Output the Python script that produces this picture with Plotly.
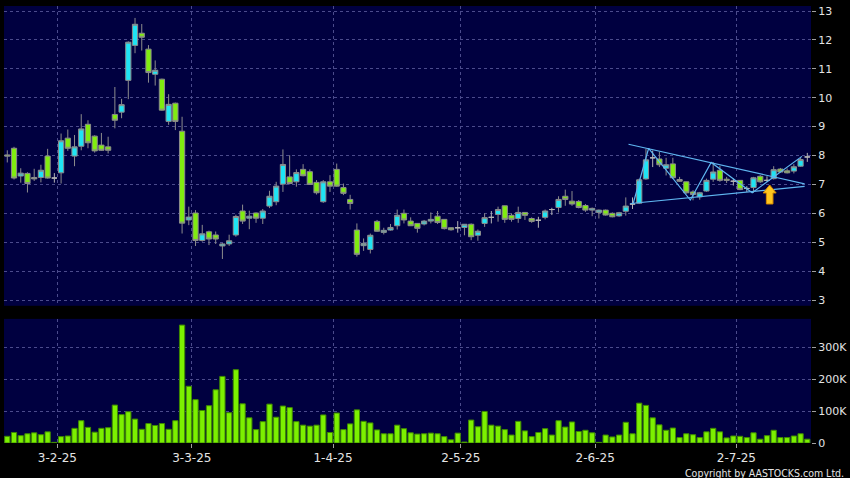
import plotly.graph_objects as go

# ---------------- data ----------------
open_ = [8.02, 8.25, 7.29, 7.38, 7.24, 7.24, 7.98, 7.22, 7.40, 8.60,
         7.98, 8.32, 9.08, 8.67, 8.36, 8.30, 9.42, 9.50, 10.60, 11.81,
         12.23, 11.68, 10.81, 10.64, 9.18, 9.81, 8.84, 5.77, 6.01, 5.06,
         5.36, 5.25, 4.87, 4.94, 5.25, 6.08, 5.83, 6.01, 5.83, 6.25,
         6.40, 7.01, 7.26, 7.09, 7.52, 7.44, 7.07, 6.40, 7.09, 7.52,
         6.89, 6.48, 5.42, 4.88, 4.75, 5.72, 5.34, 5.42, 5.57, 6.00,
         5.73, 5.65, 5.63, 5.73, 5.90, 5.79, 5.50, 5.50, 5.51, 5.62,
         5.24, 5.65, 5.86, 5.96, 6.26, 5.93, 5.82, 6.03, 5.82, 5.76,
         5.86, 6.13, 6.20, 6.59, 6.42, 6.41, 6.27, 6.11, 6.03, 6.11,
         6.00, 5.91, 6.07, 6.32, 6.35, 7.19, 7.92, 7.88, 7.56, 7.71,
         7.17, 7.09, 6.74, 6.57, 6.77, 7.18, 7.49, 7.18, 7.11, 7.14,
         6.86, 6.89, 7.28, 7.14, 7.20, 7.53, 7.47, 7.46, 7.63, 7.95]
high = [8.18, 8.30, 7.56, 7.42, 7.54, 7.68, 8.23, 7.39, 8.76, 8.90,
        8.71, 9.43, 9.22, 8.70, 8.78, 8.65, 10.37, 9.96, 11.95, 12.76,
        12.55, 11.82, 11.29, 10.66, 10.12, 9.83, 9.34, 6.23, 6.11, 5.60,
        5.40, 5.37, 4.97, 5.26, 5.95, 6.30, 6.09, 6.03, 6.15, 6.78,
        7.09, 8.21, 8.01, 7.52, 7.70, 7.52, 7.15, 7.15, 7.32, 7.72,
        7.03, 6.64, 5.65, 5.13, 5.30, 5.77, 5.50, 5.63, 6.13, 6.13,
        5.86, 5.66, 5.77, 6.03, 6.08, 5.80, 5.51, 5.73, 5.63, 5.65,
        5.44, 6.00, 6.08, 6.23, 6.27, 6.00, 6.23, 6.04, 5.86, 5.88,
        6.13, 6.19, 6.59, 6.82, 6.77, 6.46, 6.32, 6.20, 6.13, 6.13,
        6.03, 6.05, 6.55, 6.55, 7.20, 8.23, 8.17, 8.12, 7.92, 7.92,
        7.26, 7.10, 6.80, 6.74, 7.20, 7.77, 7.64, 7.26, 7.20, 7.15,
        6.94, 7.26, 7.32, 7.28, 7.63, 7.57, 7.55, 7.70, 7.95, 8.09]
low = [7.76, 7.17, 7.06, 6.72, 7.12, 7.07, 7.20, 7.06, 7.03, 8.16,
       7.63, 8.18, 8.25, 8.10, 8.16, 8.07, 8.94, 9.29, 9.95, 11.54,
       11.63, 10.52, 10.42, 9.55, 9.06, 8.88, 5.30, 5.59, 4.87, 5.02,
       4.90, 4.94, 4.42, 4.87, 5.19, 5.63, 5.45, 5.67, 5.63, 6.18,
       6.28, 6.74, 7.00, 6.92, 7.28, 6.98, 6.65, 6.36, 6.74, 6.92,
       6.63, 6.13, 4.50, 4.70, 4.61, 5.36, 5.27, 5.40, 5.44, 5.65,
       5.56, 5.33, 5.58, 5.65, 5.63, 5.44, 5.40, 5.33, 5.24, 5.07,
       5.05, 5.53, 5.65, 5.71, 5.67, 5.71, 5.67, 5.77, 5.67, 5.50,
       5.79, 5.94, 6.03, 6.26, 6.26, 6.17, 6.05, 5.90, 5.82, 5.92,
       5.86, 5.88, 5.92, 6.15, 6.32, 7.16, 7.60, 7.60, 7.31, 7.19,
       7.09, 6.68, 6.45, 6.47, 6.74, 7.09, 7.09, 7.05, 6.96, 6.80,
       6.74, 6.71, 7.05, 7.09, 7.17, 7.41, 7.38, 7.38, 7.61, 7.78]
close = [7.98, 7.22, 7.39, 7.03, 7.19, 7.49, 7.22, 7.22, 8.51, 8.25,
         8.30, 8.92, 8.44, 8.16, 8.18, 8.18, 9.22, 9.76, 11.92, 12.54,
         12.09, 10.87, 10.95, 9.57, 9.77, 9.18, 5.66, 5.87, 5.06, 5.29,
         5.11, 5.11, 4.94, 5.05, 5.89, 5.73, 5.90, 5.83, 6.08, 6.59,
         6.94, 7.69, 7.03, 7.41, 7.30, 7.00, 6.71, 7.09, 6.94, 6.94,
         6.69, 6.34, 4.58, 4.96, 5.24, 5.38, 5.41, 5.51, 5.93, 5.77,
         5.57, 5.48, 5.73, 5.79, 5.68, 5.47, 5.43, 5.50, 5.62, 5.19,
         5.38, 5.85, 5.86, 6.13, 5.79, 5.79, 6.03, 5.93, 5.72, 5.76,
         6.08, 6.13, 6.48, 6.48, 6.32, 6.20, 6.11, 6.17, 6.11, 5.94,
         5.88, 6.02, 6.25, 6.32, 7.16, 7.85, 7.92, 7.68, 7.68, 7.23,
         7.11, 6.71, 6.65, 6.71, 7.14, 7.43, 7.14, 7.14, 7.11, 6.82,
         6.86, 7.23, 7.09, 7.14, 7.51, 7.43, 7.40, 7.61, 7.86, 7.95]
volume_k = [21, 33, 23, 29, 32, 26, 35, 2, 20, 22,
            46, 70, 49, 34, 46, 48, 119, 89, 98, 75,
            43, 61, 55, 61, 43, 70, 370, 178, 136, 102,
            117, 167, 209, 95, 230, 123, 79, 42, 67, 122,
            81, 116, 111, 67, 56, 53, 56, 88, 33, 94,
            42, 60, 104, 68, 63, 41, 29, 29, 56, 45,
            32, 28, 29, 31, 29, 20, 10, 31, 3, 72,
            51, 99, 56, 53, 42, 25, 68, 38, 20, 33,
            45, 25, 70, 50, 66, 36, 40, 32, 2, 25,
            19, 25, 65, 29, 125, 118, 79, 57, 40, 47,
            17, 29, 26, 17, 35, 46, 35, 16, 22, 21,
            17, 32, 12, 23, 40, 17, 17, 22, 29, 12]
volume = [v * 1000 for v in volume_k]

tick_idx = [7, 27, 48, 67, 87, 108]
tick_labels = ["3-2-25", "3-3-25", "1-4-25", "2-5-25", "2-6-25", "2-7-25"]
price_ticks = [3, 4, 5, 6, 7, 8, 9, 10, 11, 12, 13]
vol_ticks = [0, 100000, 200000, 300000]
vol_tick_labels = ["0", "100K", "200K", "300K"]

# analyst drawings (triangle + zigzag), in (bar index, price)
upper_x = [92.4, 118.6]
upper_y = [8.39, 7.02]
lower_x = [92.7, 118.6]
lower_y = [6.34, 6.93]
zig_x = [93.1, 95.4, 101.6, 104.7, 110.8, 113.8, 118.2]
zig_y = [6.34, 8.25, 6.46, 7.76, 6.71, 7.21, 7.97]
arrow_x = 113.4
arrow_tip = 6.98

# ---------------- layout constants ----------------
W, H = 850, 478
ML, MR, MT, MB = 4, 39, 6, 35
X_RANGE = [-0.49, 119.55]
P_RANGE = [2.80, 13.173]
V_RANGE = [0, 389400]
P_DOMAIN = [0.314, 1.0]
V_DOMAIN = [0.0, 0.284]

BG = "#000040"
GRID = "#4b4b8c"
TXT = "#e4e4e4"
CYAN = "#1fe4f4"
GREEN = "#80ec10"
EDGE = "#8c8c8c"
TREND = "#5fb6f0"

n = len(close)
idx = list(range(n))

def subset(cond):
    ii = [i for i in idx if cond(i)]
    return (ii, [open_[i] for i in ii], [high[i] for i in ii],
            [low[i] for i in ii], [close[i] for i in ii])

fig = go.Figure()

for cond, fill, edge in [
    (lambda i: close[i] > open_[i], CYAN, EDGE),
    (lambda i: close[i] < open_[i], GREEN, EDGE),
    (lambda i: close[i] == open_[i], "#b4b4b4", "#b4b4b4"),
]:
    x, o, h, l, c = subset(cond)
    fig.add_trace(go.Candlestick(
        x=x, open=o, high=h, low=l, close=c,
        increasing=dict(fillcolor=fill, line=dict(color=edge, width=1)),
        decreasing=dict(fillcolor=fill, line=dict(color=edge, width=1)),
        whiskerwidth=0, showlegend=False, hoverinfo="skip",
        xaxis="x", yaxis="y"))

fig.add_trace(go.Bar(
    x=idx, y=volume, marker=dict(color="#7cf000", line=dict(color="#3f8a00", width=1)),
    showlegend=False, hoverinfo="skip", xaxis="x2", yaxis="y2"))

for xs, ys in [(upper_x, upper_y), (lower_x, lower_y), (zig_x, zig_y)]:
    fig.add_trace(go.Scatter(x=xs, y=ys, mode="lines",
                             line=dict(color=TREND, width=1.2),
                             showlegend=False, hoverinfo="skip",
                             xaxis="x", yaxis="y"))

# yellow up-arrow glyph, sized in pixels
plot_w = W - ML - MR
plot_h = (H - MT - MB) * (P_DOMAIN[1] - P_DOMAIN[0])
ux = (X_RANGE[1] - X_RANGE[0]) / plot_w
uy = (P_RANGE[1] - P_RANGE[0]) / plot_h
glyph = [(0, 0), (6.5, 8), (3.3, 8), (3.3, 19), (-3.3, 19), (-3.3, 8), (-6.5, 8), (0, 0)]
ax_ = [arrow_x + px * ux for px, py in glyph]
ay_ = [arrow_tip - py * uy for px, py in glyph]
fig.add_trace(go.Scatter(x=ax_, y=ay_, mode="lines", fill="toself",
                         fillcolor="#ffc61e", line=dict(color="#d98a00", width=1),
                         showlegend=False, hoverinfo="skip", xaxis="x", yaxis="y"))

grid_pos = [t + 0.45 for t in tick_idx]
font = dict(family="DejaVu Sans", size=11, color=TXT)

fig.update_layout(
    width=W, height=H,
    margin=dict(l=ML, r=MR, t=MT, b=MB, pad=0, autoexpand=False),
    paper_bgcolor="#000000", plot_bgcolor=BG,
    boxgap=0.12, boxgroupgap=0.12, bargap=0.22,
    font=font,
    xaxis=dict(domain=[0, 1], range=X_RANGE, anchor="y",
               tickvals=grid_pos, showticklabels=False, ticks="",
               showgrid=True, gridcolor=GRID, griddash="3px,3px", gridwidth=1,
               zeroline=False, showline=False, rangeslider=dict(visible=False),
               fixedrange=True),
    yaxis=dict(domain=P_DOMAIN, range=P_RANGE, side="right", anchor="x",
               tickvals=price_ticks, ticks="outside", ticklen=4, tickcolor="#a0a0a0",
               showgrid=True, gridcolor=GRID, griddash="3px,3px", gridwidth=1,
               zeroline=False, showline=False, tickfont=font),
    xaxis2=dict(domain=[0, 1], range=X_RANGE, anchor="y2",
                tickvals=grid_pos, ticktext=tick_labels, ticks="outside",
                ticklen=4, tickcolor="#a0a0a0",
                showgrid=True, gridcolor=GRID, griddash="3px,3px", gridwidth=1,
                zeroline=False, showline=False,
                tickfont=dict(family="DejaVu Sans", size=12, color=TXT)),
    yaxis2=dict(domain=V_DOMAIN, range=V_RANGE, side="right", anchor="x2",
                tickvals=vol_ticks, ticktext=vol_tick_labels, ticks="outside",
                ticklen=4, tickcolor="#a0a0a0",
                showgrid=True, gridcolor=GRID, griddash="3px,3px", gridwidth=1,
                zeroline=False, showline=False, tickfont=font),
    annotations=[dict(
        text="Copyright by AASTOCKS.com Ltd.", xref="paper", yref="paper",
        x=1.0 + (MR - 4) / plot_w, y=-30 / (H - MT - MB),
        xanchor="right", yanchor="middle", showarrow=False,
        font=dict(family="DejaVu Sans Condensed, Liberation Sans Narrow, Liberation Sans",
                  size=10.5, color=TXT))],
)

fig.write_html(
    "out.html",
    config={"displayModeBar": False, "staticPlot": True},
    post_script="document.body.style.margin='0';document.body.style.overflow='hidden';"
                "document.body.style.background='#000';",
)
